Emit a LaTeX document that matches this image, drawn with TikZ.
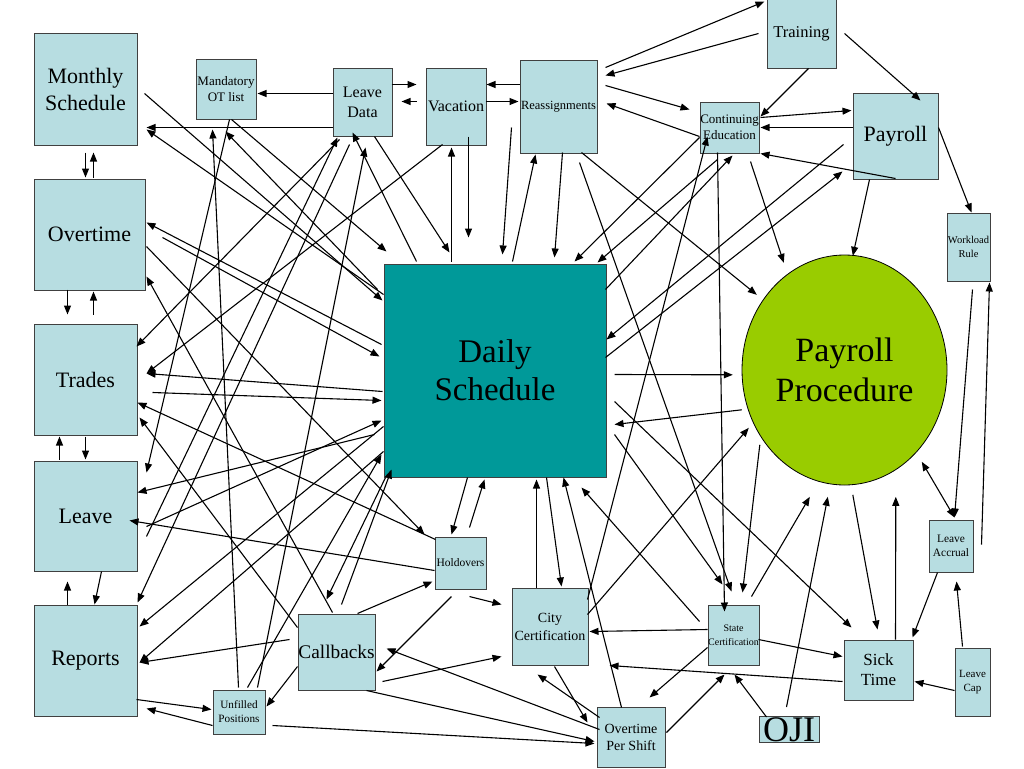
\documentclass[tikz,border=0pt]{standalone}
\usepackage{fontspec}
\setmainfont{Liberation Serif}
\definecolor{boxblue}{RGB}{183,221,225}
\definecolor{dsteal}{RGB}{0,153,153}
\definecolor{ppgreen}{RGB}{153,204,0}
\definecolor{boxline}{RGB}{64,64,64}
\usetikzlibrary{arrows.meta}

\begin{document}
\begin{tikzpicture}[x=1pt,y=-1pt]
\tikzstyle{box}=[rectangle, draw=boxline, fill=boxblue, line width=1pt, inner sep=0pt, align=center]
\tikzstyle{arr}=[-{Triangle[length=9pt,width=7pt]}, line width=1.1pt]
\tikzstyle{darr}=[{Triangle[length=9pt,width=7pt]}-{Triangle[length=9pt,width=7pt]}, line width=1.1pt]
\useasboundingbox (0,0) rectangle (1024,768);

	% left column
	\node[box, minimum width=103, minimum height=111, font=\fontsize{22}{27}\selectfont] (ms) at (85.5,89.5) {Monthly\\Schedule};
	\node[box, minimum width=111, minimum height=111, font=\fontsize{22}{27}\selectfont] (ot) at (89.5,234.5) {Overtime};
	\node[box, minimum width=103, minimum height=111, font=\fontsize{22}{27}\selectfont] (tr) at (85.5,379.5) {Trades};
	\node[box, minimum width=103, minimum height=110, font=\fontsize{22}{27}\selectfont] (lv) at (85.5,516) {Leave};
	\node[box, minimum width=103, minimum height=111, font=\fontsize{22}{27}\selectfont] (rep) at (85.5,660.5) {Reports};

	% top row
	\node[box, minimum width=60, minimum height=60, font=\fontsize{13}{16}\selectfont] (mot) at (226,89) {Mandatory\\OT list};
	\node[box, minimum width=59, minimum height=68, font=\fontsize{16}{20}\selectfont] (ld) at (362.5,102) {Leave\\Data};
	\node[box, minimum width=60, minimum height=77, font=\fontsize{16}{20}\selectfont] (vac) at (456,106.5) {Vacation};
	\node[box, minimum width=77, minimum height=93, font=\fontsize{12.5}{15}\selectfont] (rea) at (558.5,106.5) {Reassignments};
	\node[box, minimum width=69, minimum height=68, font=\fontsize{16.5}{20}\selectfont] (trn) at (801.5,34) {Training};
	\node[box, minimum width=59, minimum height=51, font=\fontsize{13}{16}\selectfont] (ce) at (729.5,127.5) {Continuing\\Education};
	\node[box, minimum width=85, minimum height=86, font=\fontsize{22}{27}\selectfont] (pay) at (895.5,136) {Payroll};
	\node[box, minimum width=43, minimum height=68, font=\fontsize{10.5}{13.5}\selectfont] (wr) at (968.5,247) {Workload\\Rule};

	% centre
	\node[box, fill=dsteal, minimum width=222, minimum height=213, font=\fontsize{33}{38}\selectfont] (ds) at (495,370.5) {Daily\\Schedule};
	\draw[fill=ppgreen, draw=black, line width=0.8pt] (844.5,370) ellipse [x radius=102.5pt, y radius=115pt];
	\node[rectangle, inner sep=0pt, align=center, minimum width=205, minimum height=230, font=\fontsize{34}{40}\selectfont] (pp) at (844.5,370) {Payroll\\Procedure};

	% bottom row
	\node[box, minimum width=51, minimum height=52, font=\fontsize{11.5}{14}\selectfont] (hol) at (460.5,563) {Holdovers};
	\node[box, minimum width=76, minimum height=77, font=\fontsize{14}{18}\selectfont] (cc) at (550,626.5) {City\\Certification};
	\node[box, minimum width=77, minimum height=76, font=\fontsize{19.3}{23}\selectfont] (cb) at (336.5,652) {Callbacks};
	\node[box, minimum width=52, minimum height=44, font=\fontsize{11.2}{14}\selectfont] (ufp) at (239,712) {Unfilled\\Positions};
	\node[box, minimum width=68, minimum height=60, font=\fontsize{14}{17}\selectfont] (ops) at (631,737) {Overtime\\Per Shift};
	\node[box, minimum width=51, minimum height=60, font=\fontsize{10}{13.5}\selectfont] (sc) at (733.5,635) {State\\Certification};
	\node[box, minimum width=69, minimum height=60, font=\fontsize{17}{20}\selectfont] (st) at (878.5,670) {Sick\\Time};
	\node[box, minimum width=44, minimum height=52, font=\fontsize{11.4}{14}\selectfont] (la) at (951,546) {Leave\\Accrual};
	\node[box, minimum width=35, minimum height=68, font=\fontsize{11}{14}\selectfont] (lc) at (972.5,682) {Leave\\Cap};
	\node[box, minimum width=60, minimum height=26, text height=24pt, text depth=0pt, font=\fontsize{36}{36}\selectfont] (oji) at (789,729.5) {OJI};

	% connectors: from node / offset from its north west corner, to node / offset
	\foreach \a/\ax/\ay/\b/\bx/\by in {
		ld/0/26/mot/62/35, ld/0/60/ms/113/94, ld/59/17/vac/-9/17, vac/-9/34/ld/69/34,
		rea/0/25/vac/61/17, vac/60/34/rea/-1/42, rea/86/8/trn/-2/2, trn/-8/34/rea/86/16,
		rea/86/26/ce/-10/8, ce/0/35/rea/87/44, trn/42/69/ce/61/15, trn/78/34/pay/68/8,
		ce/61/16/pay/-1/18, pay/0/35/ce/61/26, pay/43/86/ce/61/52, pay/17/87/pp/111/1,
		pay/86/35/wr/25/0, ce/51/60/pp/42/8, pay/-9/52/ds/223/76, ds/222/94/pay/-10/79,
		ce/0/36/ds/191/-2, ce/18/58/ds/214/-1, ds/222/26/ce/33/54, cc/76/12/ce/8/35,
		cc/76/27/pp/7/173, rea/60/103/sc/24/-13, rea/62/93/pp/15/40, ce/18/51/sc/17/7,
		rea/-8/68/ds/119/-9, ds/129/-2/rea/16/95, rea/43/93/ds/171/-6, vac/43/69/ds/85/-26,
		ds/68/-2/vac/26/80, ld/42/69/ds/66/-11,
		ds/231/111/pp/-9/120, pp/0/155/ds/231/161, ds/231/138/st/8/-12, ds/231/171/sc/15/-20,
		pp/18/190/sc/35/-12, sc/44/-8/pp/68/242, oji/28/-9/pp/86/242, pp/111/240/st/34/-10,
		st/52/0/pp/154/242, wr/26/77/la/26/-2, la/53/25/wr/43/70, la/9/53/st/69/-2,
		lc/8/-1/la/28/62, lc/0/43/st/71/42, st/-1/42/cc/98/78, sc/51/35/st/-1/17,
		sc/0/25/cc/78/44, oji/8/1/sc/27/70, ops/70/26/sc/17/70, sc/0/43/ops/53/-9,
		sc/-8/17/ds/198/224,
		ds/84/214/hol/17/-2, hol/35/-9/ds/101/216, cc/25/0/ds/153/216, ds/163/214/cc/50/-1,
		ops/25/1/ds/180/214, hol/35/60/cc/-10/17, hol/17/60/cb/79/58, cb/60/0/hol/-2/45,
		cb/85/68/cc/-10/69, ops/3/23/cb/89/35, ops/3/11/cc/26/87, cc/43/79/ops/-9/16,
		cb/69/77/ops/-2/35, ufp/60/36/ops/-2/37,
		ms/52/119/ot/52/-1, ot/60/-1/ms/60/119, ot/34/111/tr/34/-9, tr/60/-9/ot/60/113,
		lv/26/-1/tr/26/113, tr/52/113/lv/52/-1, rep/34/0/lv/34/121, lv/68/111/rep/61/0,
		rep/103/95/ufp/-1/20, ufp/0/36/rep/113/104, cb/-8/26/rep/106/58, cb/0/53/ufp/54/17,
		ufp/26/-2/mot/17/71, ufp/45/-2/ld/33/80, ufp/35/-2/ds/-2/191, mot/34/61/lv/113/12,
		mot/36/61/ds/3/-12, ds/-6/26/mot/30/73, ds/0/31/ms/113/96, ms/111/60/ds/-1/37,
		vac/17/77/tr/113/50, ds/-1/128/tr/113/50, tr/119/69/ds/-2/137, lv/113/66/ds/-2/157,
		ds/-9/171/lv/104/32, hol/0/34/lv/96/60, ld/7/72/tr/103/23, lv/113/76/ld/5/70,
		ld/17/77/rep/104/-2, ds/33/-2/ld/20/65, ot/129/59/ds/-4/93, ds/-2/81/ot/113/44,
		ot/113/68/hol/-10/-2, cb/35/-1/ot/113/98, ds/2/214/cb/29/-14, cb/44/-9/ds/8/206,
		hol/1/3/tr/104/79, cb/0/14/tr/106/94, ds/0/163/rep/106/22, ds/0/188/rep/106/58}
		\draw[arr] ([shift={(\ax,\ay)}]\a.north west) -- ([shift={(\bx,\by)}]\b.north west);

	\draw[darr] ([shift={(180,207)}]pp.north west) -- ([shift={(26,-2)}]la.north west);

\end{tikzpicture}
\end{document}
